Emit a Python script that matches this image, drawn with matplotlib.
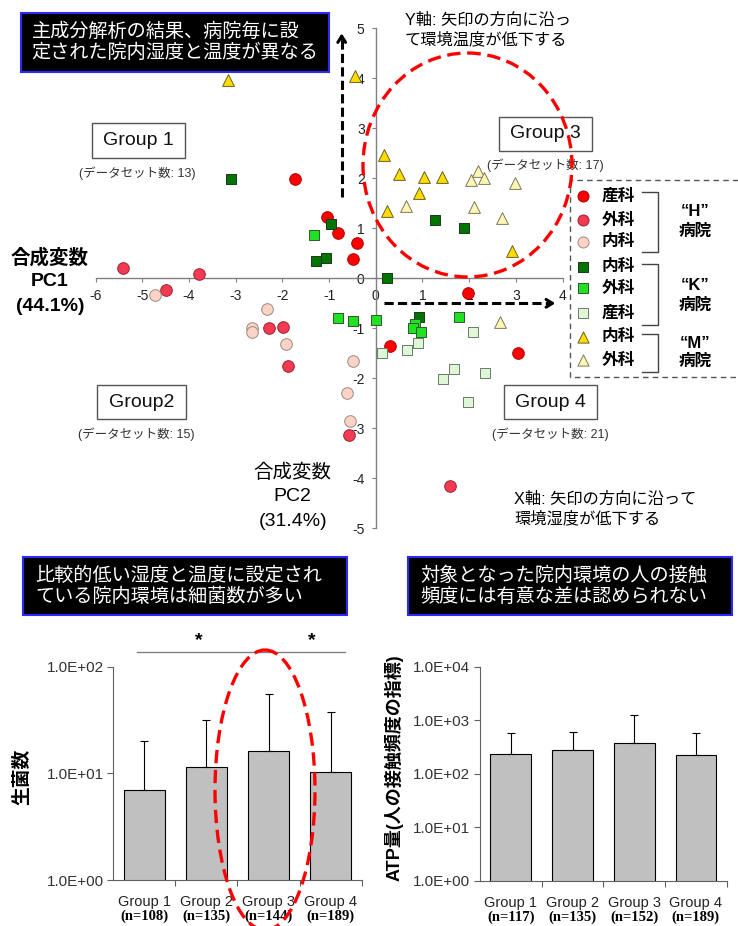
import matplotlib
matplotlib.use('Agg')
import matplotlib.pyplot as plt
from matplotlib.patches import Rectangle, Ellipse
from matplotlib.ticker import FixedLocator, NullLocator, FuncFormatter
import numpy as np

plt.rcParams['font.family'] = ['Liberation Sans', 'Noto Sans CJK JP']
plt.rcParams['axes.unicode_minus'] = False

W, H = 738, 926

# ---------------- PCA scatter data ----------------
h_obs_x = [-1.72, -1.05, -0.81, -0.41, -0.48, 1.98, 0.31, 3.05]
h_obs_y = [1.99, 1.23, 0.91, 0.70, 0.39, -0.29, -1.35, -1.49]
h_surg_x = [-5.41, -3.79, -4.50, -2.29, -1.98, -1.88, -0.57, 1.59]
h_surg_y = [0.21, 0.09, -0.23, -1.00, -0.98, -1.75, -3.13, -4.15]
h_int_x = [-4.72, -2.32, -2.65, -2.65, -1.93, -0.48, -0.61, -0.55]
h_int_y = [-0.33, -0.61, -0.99, -1.07, -1.31, -1.66, -2.30, -2.85]
k_int_x = [-3.11, -0.95, -1.27, -1.07, 1.27, 1.89, 0.25, 0.93]
k_int_y = [1.99, 1.09, 0.35, 0.41, 1.17, 1.01, 0.00, -0.77]
k_surg_x = [-1.32, -0.81, -0.48, 0.01, 0.84, 0.80, 0.96, 1.79]
k_surg_y = [0.87, -0.80, -0.85, -0.83, -0.91, -1.00, -1.07, -0.77]
k_obs_x = [2.09, 0.14, 0.66, 0.91, 1.43, 1.67, 2.35, 1.98]
k_obs_y = [-1.07, -1.50, -1.43, -1.29, -2.01, -1.81, -1.89, -2.47]
m_int_x = [-3.16, -0.44, 0.18, 0.50, 1.04, 1.42, 0.93, 0.24, 2.91]
m_int_y = [3.97, 4.05, 2.47, 2.09, 2.03, 2.02, 1.71, 1.34, 0.55]
m_surg_x = [2.18, 2.05, 2.31, 2.99, 0.64, 2.10, 2.70, 2.66]
m_surg_y = [2.14, 1.97, 2.01, 1.90, 1.45, 1.42, 1.21, -0.87]

x_ticks = [-6, -5, -4, -3, -2, -1, 0, 1, 2, 3, 4]
y_ticks = [-5, -4, -3, -2, -1, 0, 1, 2, 3, 4, 5]

dept_labels = ['産科', '外科', '内科', '内科', '外科', '産科', '内科', '外科']
hospital_labels = ['“H”', '“K”', '“M”']
group_names = ['Group 1', 'Group 3', 'Group2', 'Group 4']
group_counts = [13, 17, 15, 21]

# ---------------- bar chart data ----------------
bar_groups = ['Group 1', 'Group 2', 'Group 3', 'Group 4']
bact_n = ['(n=108)', '(n=135)', '(n=144)', '(n=189)']
bact_mean = [7.0, 11.4, 16.2, 10.2]
bact_upper = [20.2, 31.4, 55.0, 37.8]
atp_n = ['(n=117)', '(n=135)', '(n=152)', '(n=189)']
atp_mean = [233, 277, 375, 224]
atp_upper = [591, 617, 1262, 591]

# ---------------- styles ----------------
series = [
    (h_obs_x, h_obs_y, 'o', '#ff0000', '#b00000', 70),
    (h_surg_x, h_surg_y, 'o', '#f23a52', '#a02030', 70),
    (h_int_x, h_int_y, 'o', '#fcd3c4', '#9a8a85', 70),
    (k_int_x, k_int_y, 's', '#007400', '#1a3a1a', 62),
    (k_surg_x, k_surg_y, 's', '#22e022', '#2a5a2a', 62),
    (k_obs_x, k_obs_y, 's', '#def7d6', '#6a7a6a', 62),
    (m_int_x, m_int_y, '^', '#ffdd00', '#6a6020', 72),
    (m_surg_x, m_surg_y, '^', '#fff6b4', '#7a7a60', 72),
]

fig = plt.figure(figsize=(W / 100, H / 100), dpi=100)


def frac_rect(x0, y0, x1, y1):
    return [x0 / W, 1 - y1 / H, (x1 - x0) / W, (y1 - y0) / H]


# ---------------- scatter ----------------
ax = fig.add_axes(frac_rect(95.7, 28, 562.5, 528))
ax.set_xlim(-6, 4)
ax.set_ylim(-5, 5)
for sp in ['top', 'right']:
    ax.spines[sp].set_visible(False)
for sp in ['left', 'bottom']:
    ax.spines[sp].set_position(('data', 0))
    ax.spines[sp].set_color('#808080')
    ax.spines[sp].set_linewidth(1)
ax.set_xticks(x_ticks)
ax.set_yticks(y_ticks)
ax.tick_params(axis='both', direction='out', length=3, color='#808080',
               labelsize=10, labelcolor='#222222', pad=5)
ax.patch.set_alpha(0)
for xs, ys, mk, fc, ec, s in series:
    ax.scatter(xs, ys, marker=mk, s=s, facecolor=fc, edgecolor=ec,
               linewidth=0.7, zorder=3, clip_on=False)

# ---------------- bar charts ----------------
def bar_panel(rect, means, uppers, ns, ylim, ylabel, label_xy, lsize):
    b = fig.add_axes(frac_rect(*rect))
    x = np.arange(len(means))
    b.set_yscale('log')
    b.bar(x, means, width=0.66, color='#c0c0c0', edgecolor='black',
          linewidth=0.8, zorder=2)
    lower = np.zeros(len(means))
    upper = np.array(uppers) - np.array(means)
    b.errorbar(x, means, yerr=[lower, upper], fmt='none', ecolor='black',
               elinewidth=0.8, capsize=3, capthick=0.8, zorder=3)
    b.set_xlim(-0.5, len(means) - 0.5)
    b.set_ylim(*ylim)
    for sp in ['top', 'right']:
        b.spines[sp].set_visible(False)
    for sp in ['left', 'bottom']:
        b.spines[sp].set_color('#606060')
    decades = [10 ** k for k in range(int(np.log10(ylim[0])), int(np.log10(ylim[1])) + 1)]
    b.yaxis.set_major_locator(FixedLocator(decades))
    b.yaxis.set_minor_locator(NullLocator())
    b.yaxis.set_major_formatter(FuncFormatter(lambda v, _: f'{v:.1E}'))
    b.xaxis.set_major_locator(FixedLocator(list(x[1:] - 0.5) + [len(means) - 0.5]))
    b.xaxis.set_minor_locator(NullLocator())
    b.set_xticklabels([])
    b.tick_params(axis='y', direction='out', length=4, color='#606060',
                  labelsize=11, labelcolor='#333333', pad=3)
    b.tick_params(axis='x', direction='out', length=4, color='#606060')
    for i in x:
        b.annotate(bar_groups[i], xy=(i, 0), xycoords=('data', 'axes fraction'),
                   xytext=(0, -21.7), textcoords='offset pixels',
                   ha='center', va='center', fontsize=10.5, color='#222222')
        b.annotate(ns[i], xy=(i, 0), xycoords=('data', 'axes fraction'),
                   xytext=(0, -36.7), textcoords='offset pixels',
                   ha='center', va='center', fontsize=10.5, fontweight='bold',
                   family=['Liberation Serif', 'Noto Sans CJK JP'])
    b.set_ylabel(ylabel, fontsize=lsize, fontweight='bold')
    b.yaxis.set_label_coords(*label_xy)
    return b


bar_panel((113.3, 666.7, 361.7, 880), bact_mean, bact_upper, bact_n,
          (1, 100), '生菌数', (-0.331, 0.484), 13.5)
bar_panel((480, 666.7, 726.7, 881), atp_mean, atp_upper, atp_n,
          (1, 10000), 'ATP量(人の接触頻度の指標)', (-0.31, 0.53), 13)

# ---------------- overlay (annotations in pixel coords) ----------------
ov = fig.add_axes([0, 0, 1, 1])
ov.set_xlim(0, W)
ov.set_ylim(H, 0)
ov.axis('off')


def title_box(x0, y0, x1, y1, lines, tx, tys):
    ov.add_patch(Rectangle((x0, y0), x1 - x0, y1 - y0, facecolor='black',
                           edgecolor='#2a2aff', linewidth=1.5, zorder=5))
    for line, ty in zip(lines, tys):
        ov.text(tx, ty, line, color='white', fontsize=13.8, ha='left',
                va='center', zorder=6)


title_box(20.7, 13.3, 329, 71.7,
          ['主成分解析の結果、病院毎に設', '定された院内湿度と温度が異なる'],
          31.7, [31.7, 53.3])
title_box(23.3, 557.3, 346.7, 615,
          ['比較的低い湿度と温度に設定され', 'ている院内環境は細菌数が多い'],
          35, [576, 596.7])
title_box(408.3, 556.7, 731.7, 615,
          ['対象となった院内環境の人の接触', '頻度には有意な差は認められない'],
          420, [576, 596.7])

# group boxes
gboxes = [(91.7, 123.3, 185, 158.3, 137, 173),
          (499.3, 117.3, 592.3, 150.7, 545, 165.7),
          (96.7, 385, 185.7, 419.3, 136.7, 434),
          (504, 385, 597.3, 419.3, 550, 434)]
for (x0, y0, x1, y1, sx, sy), name, cnt in zip(gboxes, group_names, group_counts):
    ov.add_patch(Rectangle((x0, y0), x1 - x0, y1 - y0, facecolor='white',
                           edgecolor='#555555', linewidth=1, zorder=4))
    ov.text((x0 + x1) / 2, (y0 + y1) / 2, name, fontsize=14, ha='center',
            va='center', zorder=5, color='#111111')
    ov.text(sx, sy, f'(データセット数: {cnt})', fontsize=9, ha='center',
            va='center', color='#333333', zorder=5)

# axis titles
for t, yy in zip(['合成変数', 'PC1', '(44.1%)'], [258, 281.7, 306.7]):
    ov.text(50, yy, t, fontsize=14, fontweight='bold', ha='center', va='center')
for t, yy in zip(['合成変数', 'PC2', '(31.4%)'], [473.3, 496.7, 521.7]):
    ov.text(292.7, yy, t, fontsize=14, ha='center', va='center')

ov.text(405, 20, 'Y軸: 矢印の方向に沿っ', fontsize=11.7, ha='left', va='center')
ov.text(405, 39.3, 'て環境温度が低下する', fontsize=11.7, ha='left', va='center')
ov.text(514, 499.3, 'X軸: 矢印の方向に沿って', fontsize=11.7, ha='left', va='center')
ov.text(514, 518.3, '環境湿度が低下する', fontsize=11.7, ha='left', va='center')

# dashed arrows
ov.plot([341.7, 341.7], [196.7, 38], color='black', lw=2.2,
        ls=(0, (3, 1.4)), zorder=4)
ov.annotate('', xy=(341.7, 30.5), xytext=(341.7, 42),
            arrowprops=dict(arrowstyle='->,head_length=0.45,head_width=0.28',
                            lw=2.2, color='black'), zorder=4)
ov.plot([384, 550], [303.3, 303.3], color='black', lw=2.2,
        ls=(0, (3, 1.4)), zorder=4)
ov.annotate('', xy=(558, 303.3), xytext=(546, 303.3),
            arrowprops=dict(arrowstyle='->,head_length=0.45,head_width=0.28',
                            lw=2.2, color='black'), zorder=4)

# legend
ov.plot([738, 570, 570, 738], [180, 180, 377, 377], color='#555555', lw=1,
        ls=(0, (4, 3)), zorder=4)
leg_y = [196, 220, 241.7, 266.7, 288.3, 312.7, 336.7, 360]
for (xs, ys, mk, fc, ec, s), yy, lab in zip(series, leg_y, dept_labels):
    ov.scatter([582.7], [yy], marker=mk, s=s * 0.9, facecolor=fc, edgecolor=ec,
               linewidth=0.7, zorder=5)
    ov.text(618, yy, lab, fontsize=12, fontweight='bold', ha='center',
            va='center', zorder=5)
brackets = [(191.7, 251.7), (264.3, 324.7), (334.3, 371.7)]
hosp_y = [(211.7, 231.7), (285, 305), (343.3, 361.7)]
for (b0, b1), (hy1, hy2), hl in zip(brackets, hosp_y, hospital_labels):
    ov.plot([641.7, 658, 658, 641.7], [b0, b0, b1, b1], color='#444444',
            lw=1, zorder=4)
    ov.text(695, hy1, hl, fontsize=12, fontweight='bold', ha='center',
            va='center', zorder=5)
    ov.text(695, hy2, '病院', fontsize=12, fontweight='bold', ha='center',
            va='center', zorder=5)

# red dashed ellipses
ov.add_patch(Ellipse((467.5, 165), 209, 224, fill=False, edgecolor='#ff0000',
                     lw=2.4, ls=(0, (4, 2)), zorder=7))
ov.add_patch(Ellipse((265, 790), 100, 280, fill=False, edgecolor='#ff0000',
                     lw=2.4, ls=(0, (4, 2)), zorder=7))

# significance
ov.plot([136.7, 345], [651.7, 651.7], color='#808080', lw=1, zorder=4)
for sx in [199, 311.7]:
    ov.text(sx, 641, '*', fontsize=14, fontweight='bold', ha='center',
            va='center', zorder=5)

fig.savefig('out.png', dpi=100)
